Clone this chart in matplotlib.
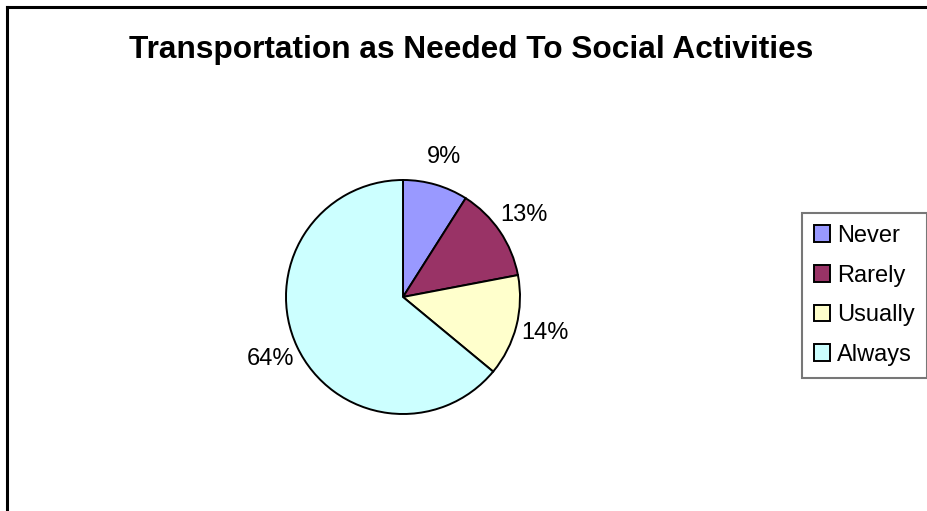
import matplotlib.pyplot as plt
from matplotlib.lines import Line2D

categories = ["Never", "Rarely", "Usually", "Always"]
shares = [9, 13, 14, 64]
colors = ["#9999FF", "#993366", "#FFFFCC", "#CCFFFF"]
title = "Transportation as Needed To Social Activities"

W, H = 927, 511
fig = plt.figure(figsize=(W / 100, H / 100), dpi=100)
fig.patch.set_facecolor("white")
plt.rcParams["font.family"] = ["Liberation Sans", "DejaVu Sans"]

# outer chart frame (left and top edges show)
fig.add_artist(Line2D([7.5 / W, 7.5 / W], [0, 1 - 7.5 / H], color="black", lw=2.2,
                      transform=fig.transFigure, solid_capstyle="projecting"))
fig.add_artist(Line2D([7.5 / W, 1], [1 - 7.5 / H, 1 - 7.5 / H], color="black", lw=2.2,
                      transform=fig.transFigure, solid_capstyle="projecting"))

# pie axes: centre (403, 297) px, radius 117 px
cx, cy, r = 403, 297, 117
ax = fig.add_axes([(cx - r) / W, (H - cy - r) / H, 2 * r / W, 2 * r / H])
wedges, _, autotexts = ax.pie(shares, colors=colors, startangle=90, counterclock=False,
                              autopct="%1.0f%%", pctdistance=1.25,
                              wedgeprops=dict(edgecolor="black", linewidth=1.4),
                              textprops=dict(fontsize=17, color="black"))
ax.set_xlim(-1, 1)
ax.set_ylim(-1, 1)
ax.set_aspect("auto")
ax.axis("off")

fig.text(471 / W, 1 - 50 / H, title, ha="center", va="center",
         fontsize=22.8, fontweight="bold")

leg = fig.legend(wedges, categories, loc="upper left",
                 bbox_to_anchor=(802 / W, 1 - 213 / H),
                 fontsize=17, frameon=True, fancybox=False,
                 handlelength=0.7, handleheight=0.7, handletextpad=0.3,
                 labelspacing=0.75, borderpad=0.5, borderaxespad=0)
leg.get_frame().set_edgecolor("#555555")
leg.get_frame().set_linewidth(1.5)

fig.savefig("out.png", dpi=100, facecolor="white")
